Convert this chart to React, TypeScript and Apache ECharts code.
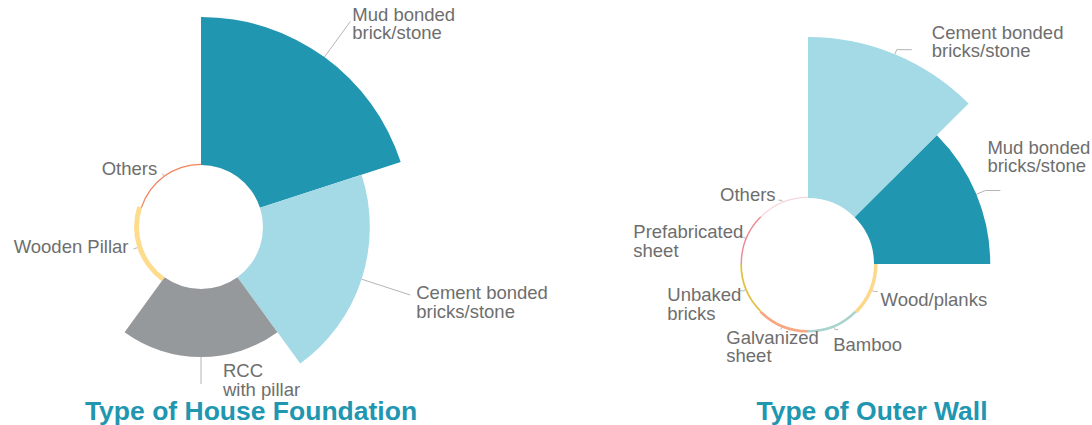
import React, { useEffect, useRef } from 'react';
import * as echarts from 'echarts';

// ---- Data ----
const foundationCategories = [
  'Mud bonded\nbrick/stone',
  'Cement bonded\nbricks/stone',
  'RCC\nwith pillar',
  'Wooden Pillar',
  'Others',
];
const foundationValues = [44.6, 32.2, 20.5, 1.5, 0.4];

const wallCategories = [
  'Cement bonded\nbricks/stone',
  'Mud bonded\nbricks/stone',
  'Wood/planks',
  'Bamboo',
  'Galvanized\nsheet',
  'Unbaked\nbricks',
  'Prefabricated\nsheet',
  'Others',
];
const wallValues = [55.4, 40.0, 1.2, 0.9, 0.9, 0.6, 0.5, 0.4];

const chartTitles = ['Type of House Foundation', 'Type of Outer Wall'];

// ---- Styles ----
const foundationColors = ['#2196b0', '#a4dae6', '#96999c', '#fedc8e', '#f2845e'];
const wallColors = ['#a4dae6', '#2196b0', '#fcd98a', '#a9d3cf', '#f7a883', '#e2c044', '#ea8c95', '#f7d6dc'];

// Label-line lengths. For rose pies ECharts measures length1 from the series'
// outer radius, so slices shorter than it take a negative length1.
const foundationLines = [[44, 0], [10, 0], [-53, 0], [-139, 0], [-144, 0]];
const foundationNudges = [[-3, 2], [1, 7], [17, -4], [0, -2], [0, -5]];
const wallLines = [[5, 15], [-35, 15], [-155, 3], [-156, 3], [-156, 0], [-157, 3], [-157, 3], [-158, 3]];
const wallNudges = [[15, -8], [-18, -34], [-2, 8], [-10, 15], [43, 17], [6, 13], [8, 4], [2, -6]];

const TEXT_COLOR = '#6e6e6e';
const TEAL = '#2196b0';
const FONT = '"Liberation Sans", Arial, sans-serif';
const LABEL_SIZE = 18.5;
const LABEL_LINE_HEIGHT = 18.5;

function richFormatter(p: any) {
  return String(p.name)
    .split('\n')
    .map((s: string) => `{t|${s}}`)
    .join('\n');
}

function buildPie(
  names: string[],
  values: number[],
  colors: string[],
  lines: number[][],
  nudges: number[][],
  center: number[],
  radius: number[]
) {
  return {
    type: 'pie',
    roseType: 'area',
    center,
    radius,
    startAngle: 90,
    clockwise: true,
    avoidLabelOverlap: false,
    silent: true,
    itemStyle: { borderWidth: 0 },
    label: {
      show: true,
      position: 'outside',
      formatter: richFormatter,
      fontSize: LABEL_SIZE,
      lineHeight: LABEL_LINE_HEIGHT,
      fontFamily: FONT,
      color: TEXT_COLOR,
      rich: {
        t: {
          fontSize: LABEL_SIZE,
          lineHeight: LABEL_LINE_HEIGHT,
          fontFamily: FONT,
          color: TEXT_COLOR,
          align: 'left',
        },
      },
    },
    labelLine: {
      show: true,
      smooth: false,
      lineStyle: { color: '#b4b4b4', width: 1 },
    },
    labelLayout: (p: any) => {
      const n = nudges[p.dataIndex] || [0, 0];
      return { dx: n[0], dy: n[1] };
    },
    data: names.map((name, i) => ({
      name,
      value: values[i],
      itemStyle: { color: colors[i] },
      labelLine: { length: lines[i][0], length2: lines[i][1] },
    })),
  };
}

export default function App() {
  const ref = useRef<HTMLDivElement>(null);

  useEffect(() => {
    if (!ref.current) return;
    const chart = echarts.init(ref.current, undefined, { renderer: 'svg' });
    chart.setOption({
      animation: false,
      backgroundColor: '#ffffff',
      graphic: [
        {
          type: 'text',
          x: 251,
          y: 411,
          style: {
            text: chartTitles[0],
            font: `bold 26.5px ${FONT}`,
            fill: TEAL,
            textAlign: 'center',
            textVerticalAlign: 'middle',
          },
        },
        {
          type: 'text',
          x: 872,
          y: 411,
          style: {
            text: chartTitles[1],
            font: `bold 26.5px ${FONT}`,
            fill: TEAL,
            textAlign: 'center',
            textVerticalAlign: 'middle',
          },
        },
      ],
      series: [
        buildPie(foundationCategories, foundationValues, foundationColors, foundationLines, foundationNudges, [201, 227], [62, 210]),
        buildPie(wallCategories, wallValues, wallColors, wallLines, wallNudges, [808, 264], [66, 227]),
      ],
    });
    return () => chart.dispose();
  }, []);

  return (
    <div
      ref={ref}
      style={{ position: 'fixed', left: 0, top: 0, width: 1092, height: 425, background: '#fff' }}
    />
  );
}
